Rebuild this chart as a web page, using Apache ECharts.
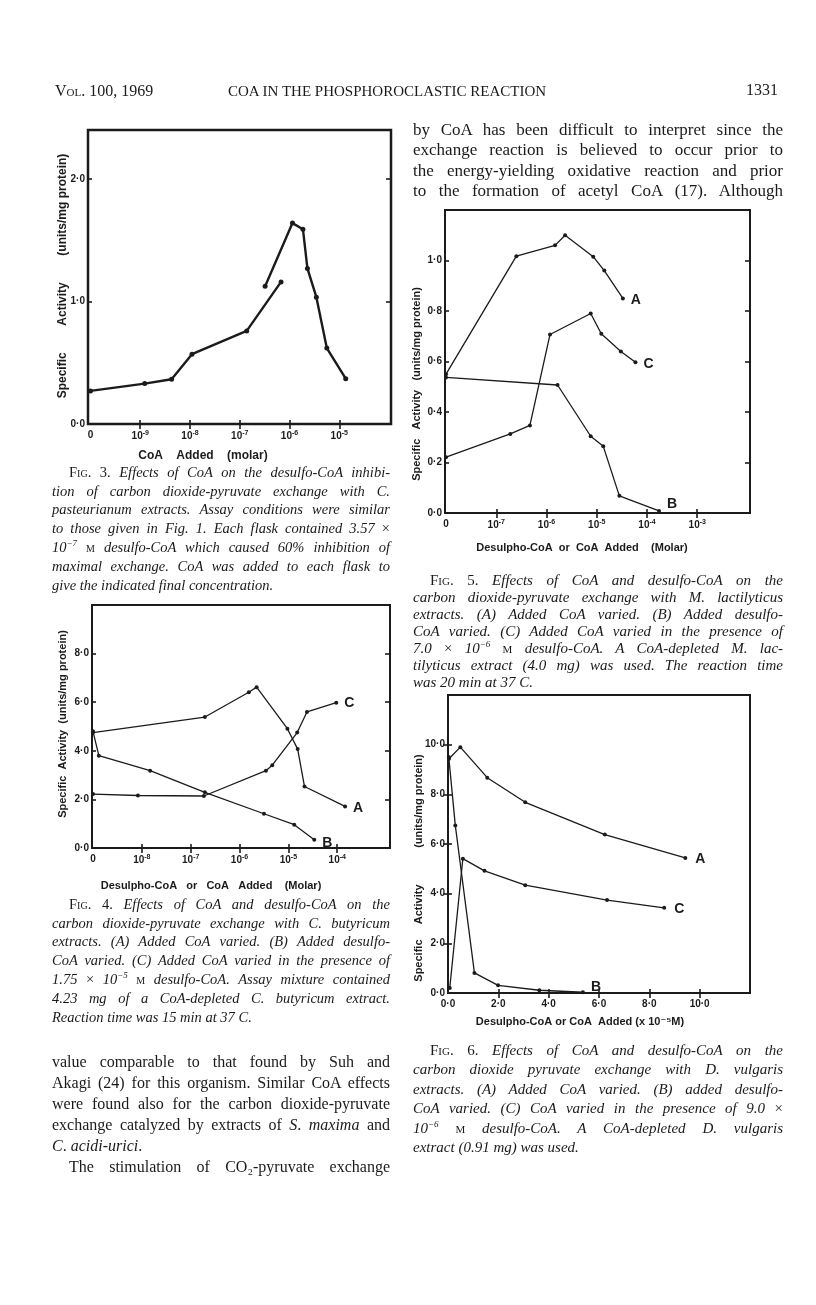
<!DOCTYPE html>
<html><head><meta charset="utf-8">
<script src="https://cdn.jsdelivr.net/npm/echarts@6/dist/echarts.min.js"></script>
<style>
html,body{margin:0;padding:0;background:#fff;}
#page{position:relative;width:816px;height:1305px;overflow:hidden;background:#fff;}
#chart{position:absolute;left:0;top:0;width:816px;height:1305px;}
.ln{position:absolute;white-space:nowrap;font-family:"Liberation Serif","DejaVu Serif",serif;color:#1a1a1a;}
.cap{font-style:italic;}
.up{font-style:normal;}
.sc{font-variant:small-caps;font-style:normal;}
</style></head>
<body><div id="page"><div id="chart"></div></div>
<script>
// ---------------- DATA ----------------
// Fig. 3 (x = log10 molar CoA; lowest value stands for "0")
const fig3ConcA = [-10, -8.91, -8.37, -7.96, -6.86, -6.17];
const fig3ActA  = [0.27, 0.33, 0.365, 0.57, 0.76, 1.16];
const fig3ConcB = [-6.49, -5.94, -5.73, -5.64, -5.46, -5.25, -4.87];
const fig3ActB  = [1.125, 1.64, 1.59, 1.27, 1.035, 0.62, 0.37];
const fig3XTickVals = [-10, -9, -8, -7, -6, -5];
const fig3XTickLabels = ['0', '10⁻⁹', '10⁻⁸', '10⁻⁷', '10⁻⁶', '10⁻⁵'];
const fig3YTickVals = [0, 1, 2];
const fig3YTickLabels = ['0·0', '1·0', '2·0'];

// Fig. 4
const fig4ConcA = [-9, -6.71, -5.81, -5.65, -5.02, -4.81, -4.67, -3.84];
const fig4ActA  = [4.75, 5.39, 6.41, 6.62, 4.91, 4.07, 2.53, 1.71];
const fig4ConcB = [-9, -8.88, -7.83, -6.71, -5.5, -4.88, -4.47];
const fig4ActB  = [4.8, 3.8, 3.18, 2.29, 1.41, 0.96, 0.34];
const fig4ConcC = [-9, -8.08, -6.73, -5.46, -5.33, -4.82, -4.62, -4.02];
const fig4ActC  = [2.22, 2.16, 2.14, 3.18, 3.41, 4.75, 5.6, 5.98];
const fig4XTickVals = [-9, -8, -7, -6, -5, -4];
const fig4XTickLabels = ['0', '10⁻⁸', '10⁻⁷', '10⁻⁶', '10⁻⁵', '10⁻⁴'];
const fig4YTickVals = [0, 2, 4, 6, 8];
const fig4YTickLabels = ['0·0', '2·0', '4·0', '6·0', '8·0'];

// Fig. 5
const fig5ConcA = [-8, -6.6, -5.83, -5.63, -5.07, -4.85, -4.48];
const fig5ActA  = [0.55, 1.017, 1.06, 1.1, 1.015, 0.96, 0.85];
const fig5ConcB = [-8, -5.78, -5.12, -4.87, -4.55, -3.76];
const fig5ActB  = [0.537, 0.507, 0.304, 0.264, 0.068, 0.008];
const fig5ConcC = [-8, -6.72, -6.33, -5.93, -5.12, -4.91, -4.52, -4.23];
const fig5ActC  = [0.221, 0.313, 0.347, 0.707, 0.79, 0.71, 0.64, 0.597];
const fig5XTickVals = [-8, -7, -6, -5, -4, -3];
const fig5XTickLabels = ['0', '10⁻⁷', '10⁻⁶', '10⁻⁵', '10⁻⁴', '10⁻³'];
const fig5YTickVals = [0, 0.2, 0.4, 0.6, 0.8, 1.0];
const fig5YTickLabels = ['0·0', '0·2', '0·4', '0·6', '0·8', '1·0'];

// Fig. 6 (x in units of 10^-5 M)
const fig6ConcA = [0.04, 0.49, 1.56, 3.07, 6.23, 9.43];
const fig6ActA  = [9.43, 9.9, 8.67, 7.68, 6.38, 5.44];
const fig6ConcB = [0.03, 0.29, 1.05, 1.99, 3.63, 5.36];
const fig6ActB  = [9.5, 6.75, 0.81, 0.31, 0.11, 0.03];
const fig6ConcC = [0.07, 0.59, 1.45, 3.07, 6.32, 8.59];
const fig6ActC  = [0.2, 5.41, 4.92, 4.34, 3.74, 3.43];
const fig6XTickVals = [0, 2, 4, 6, 8, 10];
const fig6XTickLabels = ['0·0', '2·0', '4·0', '6·0', '8·0', '10·0'];
const fig6YTickVals = [0, 2, 4, 6, 8, 10];
const fig6YTickLabels = ['0·0', '2·0', '4·0', '6·0', '8·0', '10·0'];

// ---------------- CHART ----------------
const INK = '#1b1b1b';
const SANS = '"Liberation Sans","DejaVu Sans",Arial,sans-serif';
const SUP = {'⁻': '-', '⁰': '0', '¹': '1', '²': '2', '³': '3', '⁴': '4', '⁵': '5', '⁶': '6', '⁷': '7', '⁸': '8', '⁹': '9'};

function lookup(vals, labels) {
  return function (v) {
    for (let i = 0; i < vals.length; i++) {
      if (Math.abs(vals[i] - v) < 1e-6) {
        const s = labels[i];
        const m = s.match(/^(\d+)([⁻⁰¹²³⁴⁵⁶⁷⁸⁹]+)$/);
        if (m) return '{n|' + m[1] + '}{s|' + m[2].split('').map(function (c) { return SUP[c]; }).join('') + '}';
        return '{n|' + s + '}';
      }
    }
    return '';
  };
}
const RICH = {
  n: {fontSize: 10, fontWeight: 'bold', fontFamily: SANS, color: INK},
  s: {fontSize: 7, fontWeight: 'bold', fontFamily: SANS, color: INK, padding: [0, 0, 6, 0]}
};

const grids = [], xAxes = [], yAxes = [], series = [];

function addFig(cfg) {
  const gi = grids.length;
  grids.push({left: cfg.box[0], top: cfg.box[1], width: cfg.box[2], height: cfg.box[3],
    show: true, borderColor: INK, borderWidth: cfg.frameW, backgroundColor: 'rgba(0,0,0,0)', containLabel: false});
  const tickStyle = {color: INK, width: 1.6};
  xAxes.push({type: 'value', gridIndex: gi, position: 'bottom', min: cfg.xMin, max: cfg.xMax,
    axisLine: {show: false}, splitLine: {show: false},
    axisTick: {show: true, inside: true, length: 4, customValues: cfg.xTicks.slice(1), lineStyle: tickStyle},
    axisLabel: {show: true, customValues: cfg.xTicks, margin: 6, formatter: lookup(cfg.xTicks, cfg.xLabels), rich: RICH}});
  xAxes.push({type: 'value', gridIndex: gi, position: 'top', min: cfg.xMin, max: cfg.xMax,
    axisLine: {show: false}, splitLine: {show: false},
    axisTick: {show: true, inside: true, length: 5, customValues: cfg.xTicks.slice(1), lineStyle: tickStyle},
    axisLabel: {show: false}});
  yAxes.push({type: 'value', gridIndex: gi, position: 'left', min: 0, max: cfg.yMax,
    axisLine: {show: false}, splitLine: {show: false},
    axisTick: {show: true, inside: true, length: 4, customValues: cfg.yTicks, lineStyle: tickStyle},
    axisLabel: {show: true, customValues: cfg.yTicks, margin: 3, formatter: lookup(cfg.yTicks, cfg.yLabels), rich: RICH}});
  yAxes.push({type: 'value', gridIndex: gi, position: 'right', min: 0, max: cfg.yMax,
    axisLine: {show: false}, splitLine: {show: false},
    axisTick: {show: true, inside: true, length: 5, customValues: cfg.yTicks.slice(1), lineStyle: tickStyle},
    axisLabel: {show: false}});
  cfg.lines.forEach(function (ln) {
    const data = ln.x.map(function (x, i) { return {value: [x, ln.y[i]]}; });
    if (ln.tag) {
      data[data.length - 1].label = {show: true, formatter: ln.tag, position: 'right', distance: 6,
        offset: ln.tagOffset || [0, 0], fontSize: 14, fontWeight: 'bold', fontFamily: SANS, color: INK};
    }
    series.push({type: 'line', xAxisIndex: 2 * gi, yAxisIndex: 2 * gi, data: data,
      symbol: 'circle', symbolSize: ln.sym || 4, showSymbol: true, animation: false, silent: true,
      lineStyle: {color: INK, width: ln.w || 1.3}, itemStyle: {color: INK},
      label: {show: false}, emphasis: {disabled: true}});
  });
}

addFig({box: [88, 130, 303, 294], frameW: 2.5, xMin: -10.05, xMax: -3.96, yMax: 2.4,
  xTicks: fig3XTickVals, xLabels: fig3XTickLabels, yTicks: fig3YTickVals, yLabels: fig3YTickLabels,
  lines: [{x: fig3ConcA, y: fig3ActA, w: 2.4, sym: 5}, {x: fig3ConcB, y: fig3ActB, w: 2.4, sym: 5}]});

addFig({box: [92, 605, 298, 243], frameW: 2, xMin: -9.02, xMax: -2.92, yMax: 10,
  xTicks: fig4XTickVals, xLabels: fig4XTickLabels, yTicks: fig4YTickVals, yLabels: fig4YTickLabels,
  lines: [{x: fig4ConcA, y: fig4ActA, tag: 'A', tagOffset: [0, 2]},
          {x: fig4ConcB, y: fig4ActB, tag: 'B', tagOffset: [0, 3]},
          {x: fig4ConcC, y: fig4ActC, tag: 'C', tagOffset: [0, 0]}]});

addFig({box: [445, 210, 305, 303], frameW: 2, xMin: -8.02, xMax: -1.95, yMax: 1.2,
  xTicks: fig5XTickVals, xLabels: fig5XTickLabels, yTicks: fig5YTickVals, yLabels: fig5YTickLabels,
  lines: [{x: fig5ConcA, y: fig5ActA, tag: 'A', tagOffset: [0, 2]},
          {x: fig5ConcB, y: fig5ActB, tag: 'B', tagOffset: [0, -7]},
          {x: fig5ConcC, y: fig5ActC, tag: 'C', tagOffset: [0, 2]}]});

addFig({box: [448, 695, 302, 298], frameW: 2, xMin: 0, xMax: 12, yMax: 12,
  xTicks: fig6XTickVals, xLabels: fig6XTickLabels, yTicks: fig6YTickVals, yLabels: fig6YTickLabels,
  lines: [{x: fig6ConcA, y: fig6ActA, tag: 'A', tagOffset: [2, 1]},
          {x: fig6ConcB, y: fig6ActB, tag: 'B', tagOffset: [0, -5]},
          {x: fig6ConcC, y: fig6ActC, tag: 'C', tagOffset: [2, 1]}]});

function gText(text, x, y, rot, size) {
  return {type: 'text', x: x, y: y, rotation: rot || 0, silent: true, z: 10,
    style: {text: text, x: 0, y: 0, align: 'center', verticalAlign: 'middle',
      font: 'bold ' + (size || 11) + 'px ' + SANS, fill: INK}};
}
const R = Math.PI / 2;
const graphics = [
  gText('CoA    Added    (molar)', 203, 456, 0, 12),
  gText('Specific        Activity        (units/mg protein)', 63, 276, R, 12),
  gText('Desulpho-CoA   or   CoA   Added    (Molar)', 211, 886),
  gText('Specific  Activity  (units/mg protein)', 63, 724, R),
  gText('Desulpho-CoA  or  CoA  Added    (Molar)', 582, 548),
  gText('Specific   Activity   (units/mg protein)', 417, 384, R),
  gText('Desulpho-CoA or CoA  Added (x 10⁻⁵M)', 580, 1022),
  gText('Specific     Activity            (units/mg protein)', 419, 868, R)
];

const chart = echarts.init(document.getElementById('chart'), null, {renderer: 'canvas'});
chart.setOption({animation: false, backgroundColor: '#fff', grid: grids, xAxis: xAxes, yAxis: yAxes,
  series: series, graphic: graphics});

// ---------------- PAGE TEXT ----------------
const page = document.getElementById('page');
function block(spec) {
  spec.lines.forEach(function (l, i) {
    const d = document.createElement('div');
    d.className = 'ln ' + (spec.cls || '');
    d.style.fontSize = spec.size + 'px';
    d.style.lineHeight = spec.size + 'px';
    const ind = l[2] || 0;
    d.style.left = (spec.x + ind) + 'px';
    d.style.top = (spec.y0 + i * spec.dy - spec.size / 2) + 'px';
    d.innerHTML = l[0];
    page.appendChild(d);
    if (l[1] !== false) {
      const target = spec.w - ind;
      const w = d.getBoundingClientRect().width;
      const n = (d.textContent.match(/ /g) || []).length;
      if (n > 0) d.style.wordSpacing = ((target - w) / n) + 'px';
    }
  });
}
const M = '<span class="sc">m</span>';
const SUPS = function (e) { return '10<sup style="font-size:9px;line-height:0">' + e + '</sup>'; };

// running head
block({x: 55, y0: 91, dy: 0, w: 0, size: 16, lines: [['V<span class="sc">ol</span>. 100, 1969', false]]});
block({x: 228, y0: 91, dy: 0, w: 324, size: 15, lines: [['COA IN THE PHOSPHOROCLASTIC REACTION', false]]});
block({x: 746, y0: 90, dy: 0, w: 0, size: 16, lines: [['1331', false]]});

// right column body (top)
block({x: 413, y0: 129, dy: 20.5, w: 370, size: 17, lines: [
  ['by CoA has been difficult to interpret since the'],
  ['exchange reaction is believed to occur prior to'],
  ['the energy-yielding oxidative reaction and prior'],
  ['to the formation of acetyl CoA (17). Although']]});

// Fig 3 caption
block({x: 52, y0: 472, dy: 18.8, w: 338, size: 14.5, cls: 'cap', lines: [
  ['<span class="sc">Fig</span><span class="up">. 3.</span> Effects of CoA on the desulfo-CoA inhibi-', true, 17],
  ['tion of carbon dioxide-pyruvate exchange with C.'],
  ['pasteurianum extracts. Assay conditions were similar'],
  ['to those given in Fig. 1. Each flask contained 3.57 <span class="up">×</span>'],
  [SUPS('−7') + ' ' + M + ' desulfo-CoA which caused 60% inhibition of'],
  ['maximal exchange. CoA was added to each flask to'],
  ['give the indicated final concentration.', false]]});

// Fig 4 caption
block({x: 52, y0: 904, dy: 18.8, w: 338, size: 14.5, cls: 'cap', lines: [
  ['<span class="sc">Fig</span><span class="up">. 4.</span> Effects of CoA and desulfo-CoA on the', true, 17],
  ['carbon dioxide-pyruvate exchange with C. butyricum'],
  ['extracts. (A) Added CoA varied. (B) Added desulfo-'],
  ['CoA varied. (C) Added CoA varied in the presence of'],
  ['1.75 <span class="up">×</span> ' + SUPS('−5') + ' ' + M + ' desulfo-CoA. Assay mixture contained'],
  ['4.23 mg of a CoA-depleted C. butyricum extract.'],
  ['Reaction time was 15 min at 37 C.', false]]});

// left column body (bottom)
block({x: 52, y0: 1062, dy: 21, w: 338, size: 16, lines: [
  ['value comparable to that found by Suh and'],
  ['Akagi (24) for this organism. Similar CoA effects'],
  ['were found also for the carbon dioxide-pyruvate'],
  ['exchange catalyzed by extracts of <i>S</i>. <i>maxima</i> and'],
  ['<i>C</i>. <i>acidi-urici</i>.', false],
  ['The stimulation of CO₂-pyruvate exchange', true, 17]]});

// Fig 5 caption
block({x: 413, y0: 580, dy: 17, w: 370, size: 15, cls: 'cap', lines: [
  ['<span class="sc">Fig</span><span class="up">. 5.</span> Effects of CoA and desulfo-CoA on the', true, 17],
  ['carbon dioxide-pyruvate exchange with M. lactilyticus'],
  ['extracts. (A) Added CoA varied. (B) Added desulfo-'],
  ['CoA varied. (C) Added CoA varied in the presence of'],
  ['7.0 <span class="up">×</span> ' + SUPS('−6') + ' ' + M + ' desulfo-CoA. A CoA-depleted M. lac-'],
  ['tilyticus extract (4.0 mg) was used. The reaction time'],
  ['was 20 min at 37 C.', false]]});

// Fig 6 caption
block({x: 413, y0: 1050, dy: 19.5, w: 370, size: 15, cls: 'cap', lines: [
  ['<span class="sc">Fig</span><span class="up">. 6.</span> Effects of CoA and desulfo-CoA on the', true, 17],
  ['carbon dioxide pyruvate exchange with D. vulgaris'],
  ['extracts. (A) Added CoA varied. (B) added desulfo-'],
  ['CoA varied. (C) CoA varied in the presence of 9.0 <span class="up">×</span>'],
  [SUPS('−6') + ' ' + M + ' desulfo-CoA. A CoA-depleted D. vulgaris'],
  ['extract (0.91 mg) was used.', false]]});
</script>
</body></html>
